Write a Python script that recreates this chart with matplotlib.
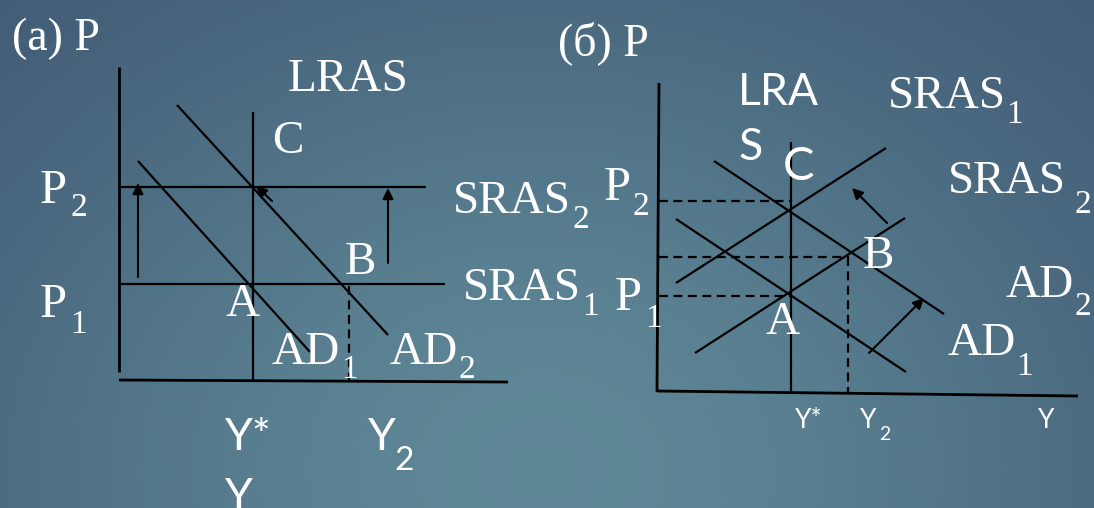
import matplotlib.pyplot as plt
import numpy as np
from matplotlib.lines import Line2D

# Canvas in pixel units (x to the right, y downwards), like the slide.
W, H = 1094, 508

# ---- panel (a): segments as (x0, y0, x1, y1) ----
a_axis_y = (119, 67, 119, 372)
a_axis_x = (119, 380, 508, 382)
a_lras = (253, 112, 253, 380)
a_sras2 = (119, 187, 426, 187)
a_sras1 = (119, 284, 445, 284)
a_ad1 = (138, 161, 310, 352)
a_ad2 = (177, 105, 388, 335)
a_dash_y2 = (349, 286, 349, 380)
a_arrows = [(138, 277, 138, 183), (388, 263, 388, 188), (272, 201, 256, 186)]

# ---- panel (б) ----
b_axis_y = (659, 83, 657, 392)
b_axis_x = (657, 391, 1078, 396)
b_lras = (791, 142, 791, 393)
b_sras1 = (695, 353, 905, 218)
b_sras2 = (676, 283, 886, 148)
b_ad1 = (676, 219, 906, 372)
b_ad2 = (714, 161, 944, 314)
b_dashes = [(659, 201, 791, 201), (659, 257, 849, 257), (659, 296, 791, 296),
            (848, 257, 848, 394)]
b_arrows = [(887, 223, 852, 188), (869, 353, 924, 298)]

# labels: (text, x, baseline y, size, family)
SERIF = "Liberation Serif"
SANS = "Lato"
labels = [
    ("(a) P", 12, 50, 33, SERIF),
    ("LRAS", 288, 91, 34, SERIF),
    ("C", 272, 153, 34, SERIF),
    ("P", 40, 203, 35, SERIF), ("2", 70, 216, 24, SERIF),
    ("SRAS", 453, 213, 34, SERIF), ("2", 572, 228, 24, SERIF),
    ("B", 345, 274, 34, SERIF),
    ("SRAS", 463, 300, 34, SERIF), ("1", 582, 315, 24, SERIF),
    ("P", 40, 317, 35, SERIF), ("1", 70, 333, 24, SERIF),
    ("A", 226, 316, 34, SERIF),
    ("AD", 272, 364, 34, SERIF), ("1", 341, 378, 24, SERIF),
    ("AD", 390, 364, 34, SERIF), ("2", 459, 378, 24, SERIF),
    ("Y*", 225, 450, 32, SANS),
    ("Y", 368, 450, 32, SANS), ("2", 394, 470, 24, SANS),
    ("Y", 225, 510, 32, SANS),
    ("(б) P", 558, 55, 33, SERIF),
    ("LRA", 738, 105, 32, SANS),
    ("S", 738, 160, 32, SANS),
    ("C", 783, 180, 34, SANS),
    ("SRAS", 888, 108, 34, SERIF), ("1", 1006, 123, 24, SERIF),
    ("SRAS", 948, 193, 34, SERIF), ("2", 1075, 213, 24, SERIF),
    ("P", 604, 200, 35, SERIF), ("2", 633, 215, 24, SERIF),
    ("B", 863, 268, 34, SERIF),
    ("AD", 1005, 297, 34, SERIF), ("2", 1075, 315, 24, SERIF),
    ("P", 615, 310, 35, SERIF), ("1", 645, 327, 24, SERIF),
    ("A", 765, 334, 34, SERIF),
    ("AD", 947, 355, 34, SERIF), ("1", 1016, 375, 24, SERIF),
    ("Y*", 795, 428, 19, SANS),
    ("Y", 860, 428, 19, SANS), ("2", 879, 440, 14, SANS),
    ("Y", 1038, 428, 19, SANS),
]


def background(w, h):
    yy, xx = np.mgrid[0:h, 0:w]
    light = np.array([0.37, 0.53, 0.59])
    dark = np.array([0.23, 0.32, 0.43])
    wgt = np.exp(-((xx - 540) / 650.0) ** 2 - ((yy - 470) / 520.0) ** 2)
    return dark + (light - dark) * wgt[..., None]


fig = plt.figure(figsize=(W / 100, H / 100), dpi=100)
ax = fig.add_axes([0, 0, 1, 1])
ax.imshow(background(W, H), extent=[0, W, H, 0], aspect="auto", zorder=0)
ax.set_xlim(0, W)
ax.set_ylim(H, 0)
ax.axis("off")


def seg(s, lw=1.6, ls="-"):
    ax.add_line(Line2D([s[0], s[2]], [s[1], s[3]], color="black", lw=lw, ls=ls,
                       solid_capstyle="butt", zorder=2))


for s in (a_axis_y, a_axis_x, b_axis_y, b_axis_x):
    seg(s, lw=2.0)
for s in (a_lras, a_sras2, a_sras1, a_ad1, a_ad2, b_lras, b_sras1, b_sras2, b_ad1, b_ad2):
    seg(s)
seg(a_dash_y2, ls=(0, (4, 2.5)))
for s in b_dashes:
    seg(s, ls=(0, (4, 2.5)))

for x0, y0, x1, y1 in a_arrows + b_arrows:
    ax.annotate("", xy=(x1, y1), xytext=(x0, y0),
                arrowprops=dict(arrowstyle="-|>", color="black", lw=1.5,
                                mutation_scale=16, shrinkA=0, shrinkB=0), zorder=3)

for txt, x, y, size, fam in labels:
    ax.text(x, y, txt, fontsize=size, family=fam, color="white",
            ha="left", va="baseline", zorder=4)

fig.savefig("out.png", dpi=100)
